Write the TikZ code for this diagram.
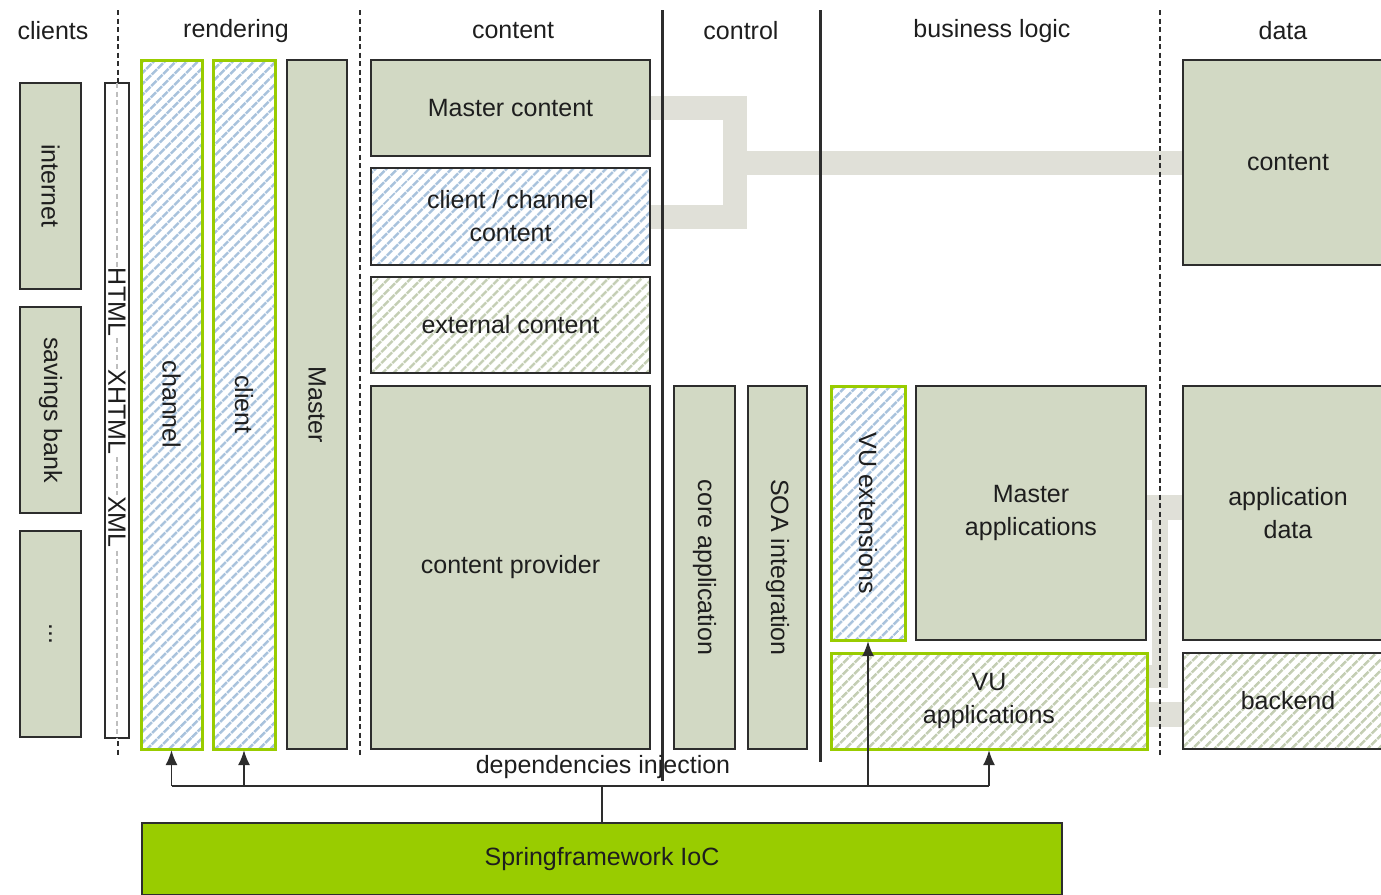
\documentclass[tikz,border=0pt]{standalone}
\usepackage{fontspec}
\setmainfont{Liberation Sans}
\usepackage{graphicx}
\usetikzlibrary{positioning,patterns.meta,arrows.meta,backgrounds}

\definecolor{boxfill}{RGB}{210,217,196}
\definecolor{edge}{RGB}{45,45,45}
\definecolor{conngrey}{RGB}{224,224,216}
\definecolor{vugreen}{RGB}{153,204,0}
\definecolor{hatchblue}{RGB}{168,194,220}
\definecolor{hatchgreen}{RGB}{196,206,180}
\definecolor{fmtdash}{RGB}{190,190,190}
\definecolor{ink}{RGB}{30,30,30}

\newcommand{\vtext}[1]{\rotatebox{-90}{#1}}

\begin{document}
\begin{tikzpicture}[
		x=0.5pt, y=-0.5pt,
		font=\fontsize{12.5}{16.5}\selectfont, text=ink,
		node distance=6pt,
		box/.style={draw=edge, fill=boxfill, line width=0.8pt, inner sep=0pt, outer sep=0pt, anchor=north west, align=center},
		hatched/.style={draw=edge, line width=0.8pt, inner sep=0pt, outer sep=0pt, anchor=north west, align=center,
			pattern={Lines[angle=45,distance=4pt,line width=1.4pt]}},
		bluehatch/.style={hatched, pattern color=hatchblue},
		greenhatch/.style={hatched, pattern color=hatchgreen},
		vu/.style={draw=vugreen, line width=1.5pt},
		conn/.style={draw=conngrey, line width=12pt},
		divider/.style={draw=edge, line width=0.75pt, dash pattern=on 2.5pt off 1.75pt},
		wall/.style={draw=edge, line width=1.5pt},
		fmtlabel/.style={fill=white, inner sep=0.5pt},
		inj/.style={draw=edge, line width=0.7pt, -{Latex[length=7.5pt,width=6pt]}},
	]
		\clip (0,0) rectangle (1381,894);

		% column headers
		\node (hclients) at (53,31) {clients};
		\node (hrendering) at (236,31) {rendering};
		\node (hcontent) at (513,31) {content};
		\node (hcontrol) at (741,31) {control};
		\node (hlogic) at (992,31) {business logic};
		\node (hdata) at (1283,31) {data};

		\draw[divider] (118,10) -- (118,757);
		\draw[divider] (360,10) -- (360,757);
		\draw[divider] (1160,10) -- (1160,757);
		\draw[wall] (662.5,10) -- (662.5,781);
		\draw[wall] (820,10) -- (820,762);

		% clients
		\node[box, minimum width=30.5pt, minimum height=103pt] (internet) at (20,83) {\vtext{internet}};
		\node[box, minimum width=30.5pt, minimum height=103pt, below=9pt of internet] (savings) {\vtext{savings bank}};
		\node[box, minimum width=30.5pt, minimum height=103pt, below=9pt of savings] (more) {\vtext{...}};

		\node[box, fill=white, minimum width=12pt, minimum height=327.5pt] (fmt) at (105,83) {};
		\draw[divider, draw=fmtdash] (fmt.north) -- (fmt.south);
		\node[fmtlabel] (html) at (117,302) {\vtext{HTML}};
		\node[fmtlabel] (xhtml) at (117,412) {\vtext{XHTML}};
		\node[fmtlabel] (xml) at (117,522) {\vtext{XML}};

		% rendering
		\node[bluehatch, vu, minimum width=30.5pt, minimum height=344.5pt] (channel) at (141,60) {\vtext{channel}};
		\node[bluehatch, vu, minimum width=31pt, minimum height=344.5pt, right=5.5pt of channel] (client) {\vtext{client}};
		\node[box, minimum width=30pt, minimum height=344.5pt, right=6pt of client] (master) {\vtext{Master}};

		% content
		\node[box, minimum width=139.5pt, minimum height=48pt] (mcontent) at (371,60) {Master content};
		\node[bluehatch, minimum width=139.5pt, minimum height=48.5pt, below=of mcontent] (cccontent) {client / channel\\content};
		\node[greenhatch, minimum width=139.5pt, minimum height=48pt, below=of cccontent] (excontent) {external content};
		\node[box, minimum width=139.5pt, minimum height=181.5pt, below=6.5pt of excontent] (provider) {content provider};

		% control
		\node[box, minimum width=30.5pt, minimum height=181.5pt] (core) at (674,386) {\vtext{core application}};
		\node[box, minimum width=29.5pt, minimum height=181.5pt, right=6.5pt of core] (soa) {\vtext{SOA integration}};

		% business logic
		\node[bluehatch, vu, minimum width=37pt, minimum height=127pt] (vuext) at (831,386) {\vtext{VU extensions}};
		\node[box, minimum width=115pt, minimum height=127pt, right=5.5pt of vuext] (mapps) {Master\\applications};
		\node[greenhatch, vu, minimum width=158pt, minimum height=48pt, below=6.5pt of vuext.south west, anchor=north west] (vuapps) {VU\\applications};

		% data
		\node[box, minimum width=105pt, minimum height=102.5pt] (dcontent) at (1183,60) {content};
		\node[box, minimum width=105pt, minimum height=127pt] (adata) at (1183,386) {application\\data};
		\node[greenhatch, minimum width=105pt, minimum height=48pt, below=6.5pt of adata] (backend) {backend};

		\node[box, fill=vugreen, minimum width=460pt, minimum height=36pt] (spring) at (142,823) {Springframework IoC};

		\begin{scope}[on background layer]
			\draw[conn] (mcontent.east) -- ++(85,0) coordinate (brk) |- (cccontent.east);
			\draw[conn] (brk |- dcontent.west) -- (dcontent.west);
			\draw[conn, line width=12.5pt] ([yshift=2.75pt]mapps.east) -- ([yshift=2.75pt]adata.west);
			\draw[conn, line width=8pt] (1160,507) -- (1160,688);
			\draw[conn, line width=11.5pt] ([yshift=12.25pt]vuapps.east) -- +(21,0);
			\draw[conn, line width=12.5pt] ([yshift=-6.75pt]vuapps.east) -- ([yshift=-6.75pt]backend.west);
		\end{scope}

		% dependencies injection
		\draw[draw=edge, line width=0.7pt] (spring.north) -- ++(0,-37) coordinate (di);
		\draw[draw=edge, line width=0.7pt] (channel.south |- di) -- (vuapps.south |- di);
		\foreach \n in {channel, client, vuext, vuapps}
			\draw[inj, shorten >=0.6pt] (\n.south |- di) -- (\n.south);
		\node (dilabel) at (603,767) {dependencies injection};
	\end{tikzpicture}
\end{document}
